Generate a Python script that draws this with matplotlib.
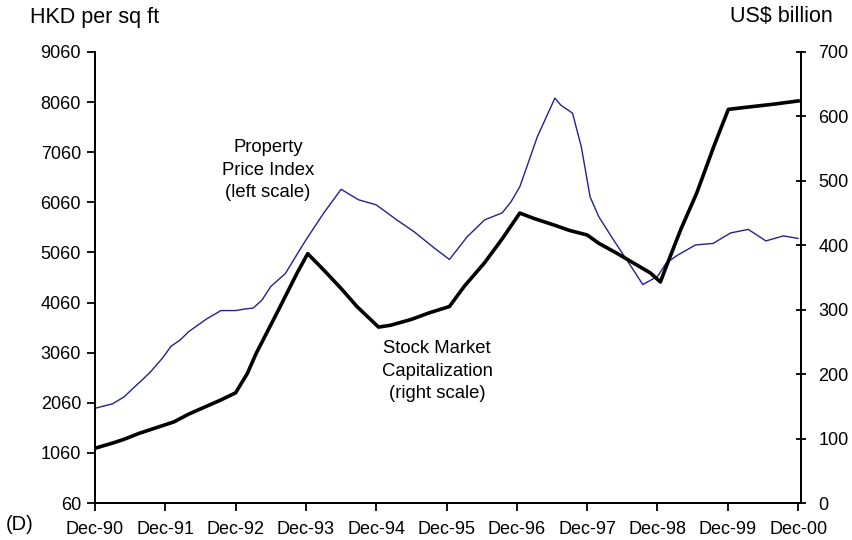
#!/usr/bin/env python3
"""
Hong Kong property price index vs. stock market capitalization, Dec-90 .. Dec-00
two y axes: left HKD per sq ft, right US$ billion
"""

import matplotlib
matplotlib.use('Agg')
import matplotlib.pyplot as plt

# months counted from Dec-90
tick_labels = ['Dec-90', 'Dec-91', 'Dec-92', 'Dec-93', 'Dec-94', 'Dec-95',
               'Dec-96', 'Dec-97', 'Dec-98', 'Dec-99', 'Dec-00']

# property price index (left scale, HKD per sq ft)
prop_month = [0, 3, 5, 6.5, 8, 9.5, 11.5, 13, 14.5, 16, 19, 21.5, 24, 25.5, 27,
              28.5, 30, 32.5, 34, 36, 39, 42, 45, 48, 51.5, 54.5, 58, 60.5,
              63.5, 66.5, 69.5, 71, 72.5, 73.5, 75.5, 78.5, 79.5, 81.5, 83,
              84.5, 86, 88.5, 91.5, 93.5, 96, 97.5, 99.5, 102.5, 105.5, 108.5,
              111.5, 114.5, 117.5, 120]
prop_value = [1950, 2040, 2180, 2350, 2510, 2680, 2950, 3190, 3310, 3480, 3730,
              3900, 3900, 3930, 3950, 4110, 4380, 4640, 4930, 5310, 5840, 6320,
              6110, 6010, 5710, 5470, 5140, 4920, 5370, 5710, 5850, 6070, 6370,
              6700, 7370, 8140, 8000, 7840, 7170, 6170, 5770, 5310, 4780, 4420,
              4580, 4850, 5010, 5210, 5240, 5450, 5520, 5290, 5390, 5340]

# stock market capitalization (right scale, US$ billion)
stock_month = [0, 3, 5, 7.5, 10.5, 13.5, 16, 19, 21.5, 24, 26, 27.5, 31, 34.5,
               36.3, 39, 42, 44.7, 48.4, 50.5, 54, 57, 60.5, 63, 66.5, 69.5,
               72.5, 74.8, 78.5, 81, 84, 86, 89, 92, 94.8, 96.5, 97.5, 100,
               102.7, 105.6, 108.1, 110, 115.8, 120]
stock_value = [85, 93, 99, 108, 117, 126, 138, 150, 160, 171, 201, 232, 294, 357,
               387, 362, 333, 305, 273, 276, 285, 295, 305, 336, 373, 410, 450,
               442, 431, 423, 416, 403, 388, 372, 357, 343, 367, 425, 481, 553,
               611, 613, 619, 624]

plt.rcParams['font.family'] = ['Liberation Sans', 'DejaVu Sans']
plt.rcParams['font.size'] = 13

fig = plt.figure(figsize=(8.53, 5.4), dpi=100)
ax = fig.add_axes([95 / 853, 1 - 503 / 540, 706 / 853, 451 / 540])
ax2 = ax.twinx()

ax.plot(prop_month, prop_value, color='#23238c', linewidth=1.0)
ax2.plot(stock_month, stock_value, color='black', linewidth=2.6)

ax.set_xlim(0, 120.5)
ax.set_ylim(60, 9060)
ax2.set_ylim(0, 700)

ax.set_xticks(range(0, 121, 12))
ax.set_xticklabels(tick_labels)
ax.set_yticks(range(60, 9061, 1000))
ax2.set_yticks(range(0, 701, 100))

for a in (ax, ax2):
    a.spines['top'].set_visible(False)
    for s in a.spines.values():
        s.set_linewidth(1.3)

ax.tick_params(axis='x', direction='out', length=6, width=1.3, pad=7)
ax.tick_params(axis='y', direction='out', length=6, width=1.3, pad=4)
ax2.tick_params(axis='y', direction='inout', length=7, width=1.3, pad=9)

# axis titles and annotations
fig.text(30 / 853, 1 - 17 / 540, 'HKD per sq ft', ha='left', va='center', fontsize=15.5)
fig.text(730 / 853, 1 - 17 / 540, 'US$ billion', ha='left', va='center', fontsize=15.5)
fig.text(6 / 853, 1 - 525 / 540, '(D)', ha='left', va='center', fontsize=14.5)

fig.text(268 / 853, 1 - 170 / 540, 'Property\nPrice Index\n(left scale)',
         ha='center', va='center', fontsize=13.3, linespacing=1.45)
fig.text(437 / 853, 1 - 371 / 540, 'Stock Market\nCapitalization\n(right scale)',
         ha='center', va='center', fontsize=13.3, linespacing=1.45)

fig.savefig('out.png', dpi=100)
